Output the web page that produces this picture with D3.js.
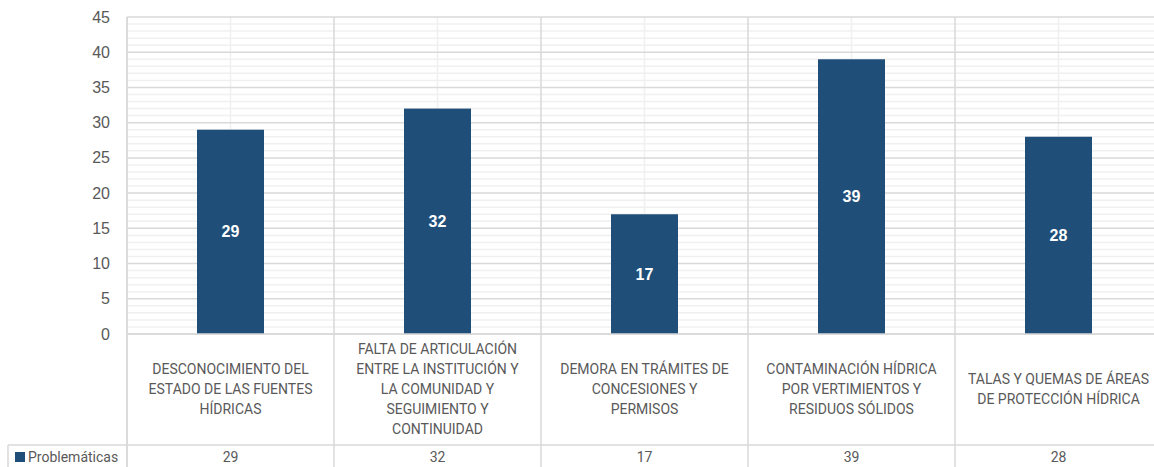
<!DOCTYPE html>
<html>
<head>
<meta charset="utf-8">
<script src="https://cdn.jsdelivr.net/npm/d3@7"></script>
<style>
  html, body { margin: 0; padding: 0; background: #fff; }
  svg { display: block; }
</style>
</head>
<body>
<svg id="chart" width="1154" height="467"></svg>
<script>
const categories = [
  ["DESCONOCIMIENTO DEL", "ESTADO DE LAS FUENTES", "HÍDRICAS"],
  ["FALTA DE ARTICULACIÓN", "ENTRE LA INSTITUCIÓN Y", "LA COMUNIDAD Y", "SEGUIMIENTO Y", "CONTINUIDAD"],
  ["DEMORA EN TRÁMITES DE", "CONCESIONES Y", "PERMISOS"],
  ["CONTAMINACIÓN HÍDRICA", "POR VERTIMIENTOS Y", "RESIDUOS SÓLIDOS"],
  ["TALAS Y QUEMAS DE ÁREAS", "DE PROTECCIÓN HÍDRICA"]
];
const categoryKeys = categories.map(c => c.join(" "));
const values = [29, 32, 17, 39, 28];
const seriesName = "Problemáticas";
const yTicks = [0, 5, 10, 15, 20, 25, 30, 35, 40, 45];

(function () {
const svg = d3.select("#chart");
const plotLeft = 127, plotTop = 17, plotBottom = 334, step = 207;
const plotRight = plotLeft + step * categories.length;
const tableRowBottom = 445;

const x = d3.scaleBand().domain(categoryKeys).range([plotLeft, plotRight]).padding(0);
const y = d3.scaleLinear().domain([0, 45]).range([plotBottom, plotTop]);
const barW = 67;

const grid = svg.append("g");
grid.selectAll("line.minor").data(d3.range(0, 46, 1).filter(v => v % 5 !== 0)).join("line")
  .attr("x1", plotLeft).attr("x2", plotRight)
  .attr("y1", d => y(d)).attr("y2", d => y(d))
  .attr("stroke", "#f0f0f0").attr("stroke-width", 1.5);
grid.selectAll("line.vminor").data(categoryKeys).join("line")
  .attr("x1", d => x(d) + x.bandwidth() / 2).attr("x2", d => x(d) + x.bandwidth() / 2)
  .attr("y1", plotTop).attr("y2", plotBottom)
  .attr("stroke", "#f0f0f0").attr("stroke-width", 1.5);
grid.selectAll("line.major").data(yTicks).join("line")
  .attr("x1", plotLeft).attr("x2", plotRight)
  .attr("y1", d => y(d)).attr("y2", d => y(d))
  .attr("stroke", "#d9d9d9").attr("stroke-width", 1.5);
grid.selectAll("line.vmajor").data(categoryKeys).join("line")
  .attr("x1", d => x(d)).attr("x2", d => x(d))
  .attr("y1", plotTop).attr("y2", 467)
  .attr("stroke", "#d9d9d9").attr("stroke-width", 1.5);

svg.append("g").selectAll("rect").data(values).join("rect")
  .attr("x", (d, i) => x(categoryKeys[i]) + (x.bandwidth() - barW) / 2)
  .attr("width", barW)
  .attr("y", d => y(d))
  .attr("height", d => y(0) - y(d))
  .attr("fill", "#1f4e79");

svg.append("line").attr("x1", plotLeft).attr("x2", plotRight).attr("y1", y(0)).attr("y2", y(0))
  .attr("stroke", "#d9d9d9").attr("stroke-width", 1.5);

svg.append("g").selectAll("text").data(values).join("text")
  .attr("x", (d, i) => x(categoryKeys[i]) + x.bandwidth() / 2)
  .attr("y", d => (y(d) + y(0)) / 2)
  .attr("dy", "0.35em")
  .attr("text-anchor", "middle")
  .attr("font-family", "Liberation Sans, Arial, sans-serif")
  .attr("font-weight", "bold")
  .attr("font-size", 16)
  .attr("fill", "#ffffff")
  .text(d => d);

svg.append("g").selectAll("text").data(yTicks).join("text")
  .attr("x", 110)
  .attr("y", d => y(d))
  .attr("dy", "0.35em")
  .attr("text-anchor", "end")
  .attr("font-family", "Liberation Sans, Arial, sans-serif")
  .attr("font-size", 16)
  .attr("fill", "#595959")
  .text(d => d);

const catRowMid = (plotBottom + tableRowBottom) / 2;
const lineH = 20;
const catG = svg.append("g");
categories.forEach((lines, i) => {
  const cx = x(categoryKeys[i]) + x.bandwidth() / 2;
  const t = catG.append("text")
    .attr("text-anchor", "middle")
    .attr("font-family", "Roboto, 'Noto Sans', sans-serif")
    .attr("font-size", 14)
    .attr("fill", "#595959");
  lines.forEach((ln, j) => {
    t.append("tspan")
      .attr("x", cx)
      .attr("y", catRowMid + (j - (lines.length - 1) / 2) * lineH)
      .attr("dy", "0.35em")
      .text(ln);
  });
});

svg.append("line").attr("x1", 8).attr("x2", plotRight).attr("y1", tableRowBottom).attr("y2", tableRowBottom)
  .attr("stroke", "#d9d9d9").attr("stroke-width", 1.5);
svg.append("line").attr("x1", 8).attr("x2", 8).attr("y1", tableRowBottom).attr("y2", 467)
  .attr("stroke", "#d9d9d9").attr("stroke-width", 1.5);
svg.append("line").attr("x1", plotLeft).attr("x2", plotLeft).attr("y1", plotTop).attr("y2", 467)
  .attr("stroke", "#d9d9d9").attr("stroke-width", 1.5);

const valY = 457;
svg.append("g").selectAll("text").data(values).join("text")
  .attr("x", (d, i) => x(categoryKeys[i]) + x.bandwidth() / 2)
  .attr("y", valY)
  .attr("dy", "0.35em")
  .attr("text-anchor", "middle")
  .attr("font-family", "Roboto, 'Noto Sans', sans-serif")
  .attr("font-size", 14)
  .attr("fill", "#595959")
  .text(d => d);

svg.append("rect").attr("x", 15).attr("y", 452).attr("width", 10).attr("height", 10).attr("fill", "#1f4e79");
svg.append("text").attr("x", 28).attr("y", valY).attr("dy", "0.35em")
  .attr("font-family", "Roboto, 'Noto Sans', sans-serif")
  .attr("font-size", 14)
  .attr("fill", "#595959")
  .text(seriesName);
})();
</script>
</body>
</html>
